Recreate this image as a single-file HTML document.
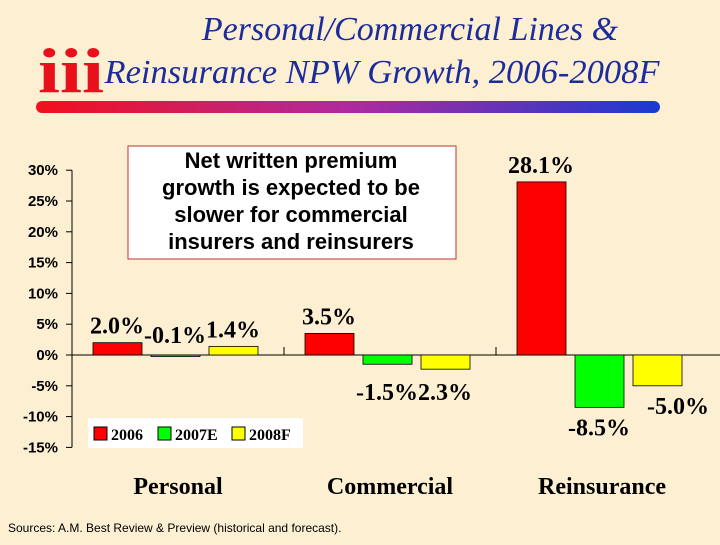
<!DOCTYPE html>
<html><head><meta charset="utf-8"><style>
body{margin:0;width:720px;height:540px;overflow:hidden;background:#fcefd2;font-family:"Liberation Serif",serif}
</style></head><body>
<svg width="720" height="540" xmlns="http://www.w3.org/2000/svg">
<defs><linearGradient id="g" x1="0" x2="1"><stop offset="0" stop-color="#f2101c"/><stop offset="0.5" stop-color="#b02aa0"/><stop offset="1" stop-color="#1a3ad0"/></linearGradient></defs>
<rect width="720" height="540" fill="#fcefd2"/>
<g fill="#e8101a">
<text x="38" y="92" font-size="64" font-weight="bold" font-family="Liberation Serif" textLength="66" lengthAdjust="spacingAndGlyphs">iii</text>
</g>
<text x="410" y="40" text-anchor="middle" font-size="34" font-style="italic" fill="#1c2c9c">Personal/Commercial Lines &amp;</text>
<text x="382" y="83" text-anchor="middle" font-size="34" font-style="italic" fill="#1c2c9c" textLength="555" lengthAdjust="spacingAndGlyphs">Reinsurance NPW Growth, 2006-2008F</text>
<rect x="36" y="101" width="624" height="12" rx="6" fill="url(#g)"/>
<g id="axes"></g>
<g id="bars"></g>
<rect x="128" y="146" width="328" height="113" fill="#fff" stroke="#c03030" stroke-width="1"/>
<text font-family="Liberation Sans" font-weight="bold" font-size="22" text-anchor="middle">
<tspan x="291" y="168">Net written premium</tspan><tspan x="291" y="195">growth is expected to be</tspan><tspan x="291" y="222">slower for commercial</tspan><tspan x="291" y="249">insurers and reinsurers</tspan></text>
<g>
<rect x="88" y="418" width="215" height="30" fill="#fff"/>
<rect x="94" y="427" width="13" height="13" fill="#f00" stroke="#000"/><text x="111" y="440" font-size="16" font-weight="bold">2006</text>
<rect x="158" y="427" width="13" height="13" fill="#0f0" stroke="#000"/><text x="175" y="440" font-size="16" font-weight="bold">2007E</text>
<rect x="232" y="427" width="13" height="13" fill="#ff0" stroke="#000"/><text x="249" y="440" font-size="16" font-weight="bold">2008F</text>
</g>
<text x="8" y="532" font-family="Liberation Sans" font-size="12">Sources: A.M. Best Review &amp; Preview (historical and forecast).</text>
</svg>
<script>
const categories=["Personal","Commercial","Reinsurance"];
const s2006=[2.0,3.5,28.1];
const s2007=[-0.1,-1.5,-8.5];
const s2008=[1.4,-2.3,-5.0];
const labels2006=["2.0%","3.5%","28.1%"];
const labels2007=["-0.1%","-1.5%","-8.5%"];
const labels2008=["1.4%","2.3%","-5.0%"];
const ticks=[30,25,20,15,10,5,0,-5,-10,-15];
const NS="http://www.w3.org/2000/svg";
const y=v=>355-v*6.16;
const gx=i=>72+i*212;
function mk(t,a,p,txt){const e=document.createElementNS(NS,t);for(const k in a)e.setAttribute(k,a[k]);if(txt!=null)e.textContent=txt;p.appendChild(e);return e;}
const ax=document.getElementById('axes'),bg=document.getElementById('bars');
let l=mk('line',{x1:72,x2:72,y1:y(30),y2:y(-15),stroke:'#000'},ax);

l=mk('line',{x1:72,x2:720,y1:y(0),y2:y(0),stroke:'#000'},ax);

ticks.forEach(t=>{mk('line',{x1:66,x2:72,y1:y(t),y2:y(t),stroke:'#000'},ax);
const tx=mk('text',{x:58,y:y(t)+5,'text-anchor':'end','font-family':'Liberation Sans','font-weight':'bold','font-size':15},ax,t+'%');
});
categories.forEach((c,i)=>{if(i>0)mk('line',{x1:gx(i),x2:gx(i),y1:y(0),y2:y(0)-8,stroke:'#000'},ax);
const tx=mk('text',{x:gx(i)+106,y:494,'text-anchor':'middle','font-weight':'bold','font-size':24},ax,c);
});
const series=[[s2006,'#f00',labels2006],[s2007,'#0f0',labels2007],[s2008,'#ff0',labels2008]];
series.forEach((s,j)=>{s[0].forEach((v,i)=>{const x=gx(i)+21+j*58;
const top=Math.min(y(v),y(0)),h=Math.max(Math.abs(y(v)-y(0)),1.5);
const r=mk('rect',{x:x,y:top,width:49,height:h,fill:s[1],stroke:'#000','stroke-width':0.8},bg);

let ly=v>=0?y(v)-9:y(v)+28;
if(v<0&&v>-0.5)ly=y(0)-12;
if(i==1&&v<0)ly=y(0)+45;
let lx=x+24;
if(i==2&&j==2)lx=x+45;
const tx=mk('text',{x:lx,y:ly,'text-anchor':'middle','font-weight':'bold','font-size':24},bg,s[2][i]);
});});
</script>
</body></html>
